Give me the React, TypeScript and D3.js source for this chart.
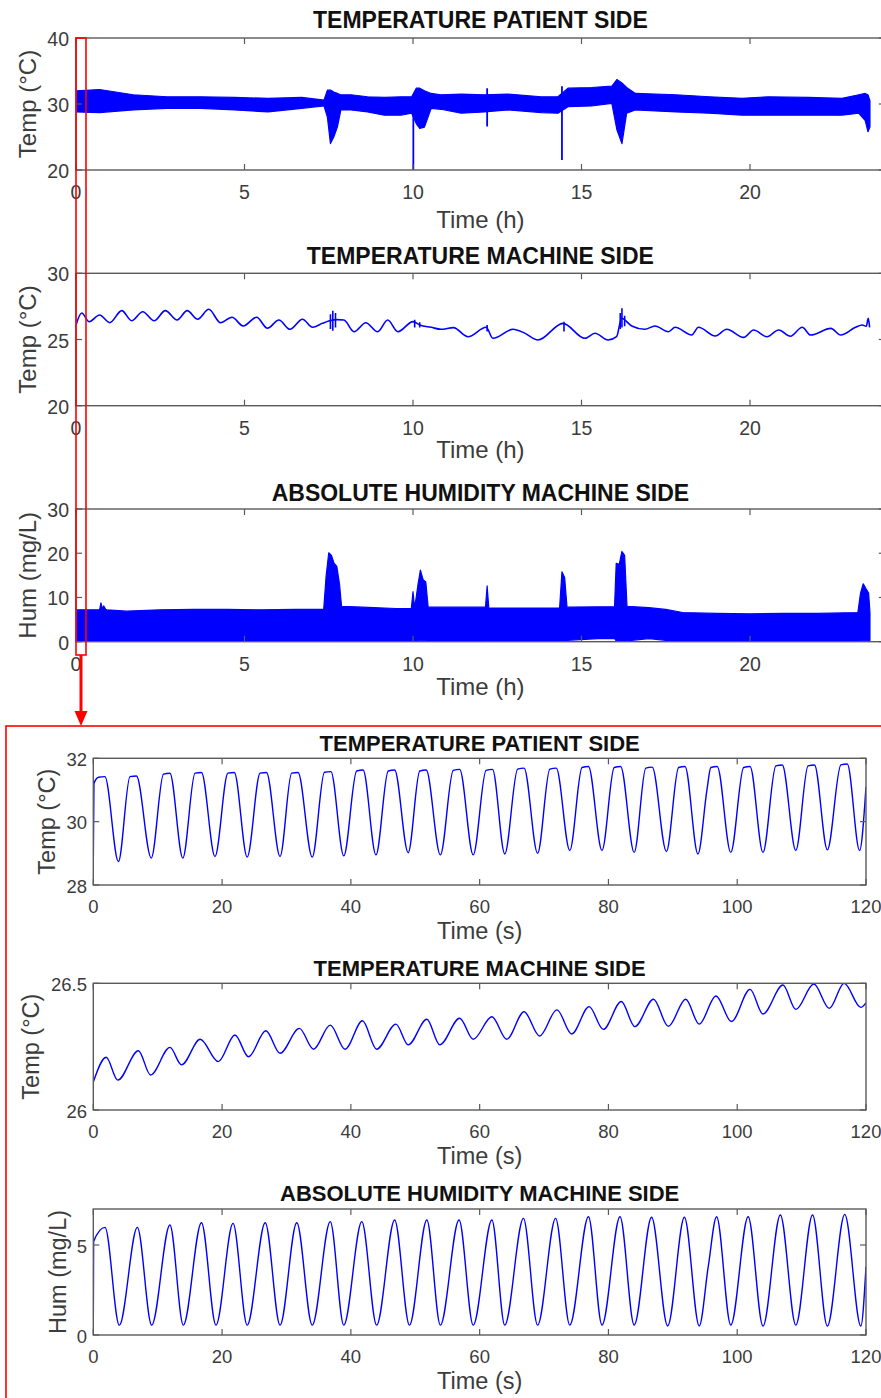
import React from "react";
import * as d3 from "d3";

// ---------------- DATA: 24 h overview ----------------
// Temperature patient side: noisy band (upper / lower envelope)
const patient24T = [0, 0.7, 1.7, 2.7, 3.7, 4.7, 5.7, 6.7, 7.36, 7.46, 7.55, 7.65, 7.76, 7.86, 8.16, 8.65, 9.15, 9.64, 9.96, 10.1, 10.2, 10.34, 10.54, 10.83, 11.43, 12.12, 12.82, 13.81, 14.3, 14.6, 15.3, 15.9, 16.05, 16.2, 16.34, 16.6, 17.8, 18.8, 19.76, 20.55, 21.74, 22.73, 23.23, 23.42, 23.5, 23.56];
const patient24Upper = [32.0, 32.2, 31.4, 31.1, 31.1, 31.0, 30.86, 31.0, 30.6, 32.1, 32.1, 31.8, 31.6, 31.4, 31.4, 31.1, 31.0, 31.1, 31.1, 32.4, 32.4, 32.0, 31.6, 31.4, 31.5, 31.4, 31.5, 31.1, 31.1, 32.4, 32.5, 32.7, 33.7, 33.2, 32.5, 31.6, 31.4, 31.1, 30.86, 31.1, 31.0, 30.86, 31.4, 31.6, 31.4, 30.5];
const patient24Lower = [28.8, 28.7, 29.1, 29.35, 29.35, 29.1, 28.8, 29.35, 29.7, 28.0, 24.0, 25.0, 26.6, 29.1, 29.1, 28.8, 28.3, 28.3, 28.6, 27.0, 26.3, 26.5, 29.35, 29.2, 28.6, 28.8, 29.1, 28.7, 28.6, 29.6, 29.7, 30.1, 26.1, 24.0, 28.6, 29.1, 28.8, 28.6, 28.3, 28.3, 28.3, 28.3, 28.6, 27.5, 25.8, 26.5];
const patient24SpikeT = [10.01, 12.2, 14.42];
const patient24SpikeLo = [20.0, 26.6, 21.5];
const patient24SpikeHi = [31.1, 32.4, 32.7];

// Temperature machine side: slow oscillation
const machine24T = [0, 0.17, 0.39, 0.7, 1.0, 1.36, 1.65, 1.98, 2.32, 2.65, 3.0, 3.3, 3.61, 3.94, 4.29, 4.63, 4.96, 5.36, 5.68, 6.02, 6.35, 6.72, 7.02, 7.31, 7.5, 7.75, 7.95, 8.25, 8.6, 8.95, 9.25, 9.55, 10.0, 10.2, 10.54, 10.83, 11.2, 11.63, 12.17, 12.37, 12.97, 13.3, 13.71, 14.45, 15.1, 15.4, 15.79, 16.04, 16.19, 16.49, 16.88, 17.18, 17.58, 17.78, 18.27, 18.47, 18.97, 19.31, 19.81, 20.11, 20.5, 20.85, 21.2, 21.55, 21.8, 22.4, 22.69, 23.13, 23.33, 23.45, 23.51, 23.55];
const machine24V = [26.1, 27.0, 26.35, 26.85, 26.27, 27.18, 26.42, 27.1, 26.42, 27.18, 26.47, 27.18, 26.53, 27.28, 26.27, 26.68, 26.02, 26.68, 25.85, 26.47, 25.77, 26.53, 25.92, 26.22, 26.4, 26.5, 26.47, 25.59, 26.27, 25.59, 26.47, 25.59, 26.35, 26.1, 25.92, 25.77, 25.9, 25.21, 25.92, 25.09, 25.77, 25.5, 24.96, 26.22, 25.09, 25.47, 24.96, 25.21, 26.6, 26.02, 25.77, 26.02, 25.59, 25.92, 25.34, 25.92, 25.26, 25.77, 25.16, 25.72, 25.21, 25.72, 25.25, 25.92, 25.34, 25.84, 25.34, 25.92, 26.1, 26.0, 26.6, 25.92];
const machine24BurstT = [7.55, 7.62, 7.7, 10.05, 10.2, 12.2, 14.48, 16.15, 16.2, 16.28];
const machine24BurstLo = [25.8, 25.66, 25.9, 25.9, 25.9, 25.6, 25.6, 25.8, 25.9, 26.0];
const machine24BurstHi = [26.9, 27.18, 27.0, 26.5, 26.3, 26.1, 26.35, 27.0, 27.36, 26.8];

// Absolute humidity machine side: band
const hum24T = [0, 0.7, 0.74, 0.78, 0.82, 0.88, 0.92, 1.5, 2.5, 3.5, 4.5, 5.5, 6.5, 7.35, 7.42, 7.5, 7.58, 7.66, 7.74, 7.82, 7.88, 8.5, 9.5, 9.95, 10.0, 10.05, 10.15, 10.22, 10.3, 10.38, 10.45, 11.5, 12.15, 12.2, 12.25, 13.5, 14.35, 14.42, 14.5, 14.57, 15.5, 15.98, 16.03, 16.12, 16.2, 16.28, 16.35, 17.0, 17.5, 18.0, 19.0, 20.0, 21.0, 22.0, 23.2, 23.28, 23.36, 23.44, 23.52, 23.56];
const hum24Upper = [7.2, 7.2, 8.8, 7.4, 8.1, 7.3, 7.2, 6.9, 7.2, 7.3, 7.3, 7.2, 7.3, 7.3, 14.7, 20.1, 19.5, 17.7, 17.0, 13.0, 8.0, 7.8, 7.5, 7.5, 11.3, 7.6, 13.0, 16.2, 14.0, 13.5, 7.8, 7.8, 7.8, 12.6, 7.6, 7.6, 7.6, 15.8, 14.5, 7.8, 7.9, 7.9, 17.7, 17.5, 20.4, 19.5, 8.0, 7.7, 7.3, 6.6, 6.4, 6.3, 6.4, 6.4, 6.6, 11.0, 13.1, 12.0, 11.0, 6.5];
const hum24Lower = [0.3, 0.3, 0.3, 0.3, 0.3, 0.3, 0.3, 0.3, 0.3, 0.3, 0.3, 0.3, 0.3, 0.3, 0.1, 0.1, 0.1, 0.1, 0.1, 0.1, 0.3, 0.3, 0.3, 0.3, 0.2, 0.3, 0.2, 0.2, 0.2, 0.2, 0.3, 0.3, 0.3, 0.2, 0.3, 0.3, 0.3, 0.1, 0.1, 0.3, 0.7, 0.7, 0.2, 0.1, 0.1, 0.1, 0.2, 0.7, 0.3, 0.3, 0.3, 0.3, 0.3, 0.3, 0.3, 0.2, 0.2, 0.2, 0.2, 0.3];

// ---------------- DATA: first 120 s ----------------
// patient side: trough, plateau start, plateau end for each breath
const patient120T = [0, 0.1, 0.8, 1.8, 3.9, 5.7, 6.7, 9.0, 10.9, 11.9, 13.9, 15.8, 16.8, 18.9, 20.9, 21.9, 23.9, 25.9, 26.9, 29.0, 30.8, 31.8, 34.0, 35.9, 36.9, 38.9, 40.9, 41.9, 43.9, 45.8, 46.8, 48.9, 50.7, 51.7, 53.9, 55.9, 56.9, 59.0, 61.0, 62.0, 63.9, 65.9, 66.9, 69.0, 70.9, 71.9, 74.0, 75.9, 76.9, 79.0, 80.9, 81.9, 84.0, 85.8, 86.8, 89.0, 90.9, 91.9, 93.9, 95.3, 95.9, 96.9, 99.0, 101.0, 102.0, 104.0, 106.0, 107.0, 109.1, 111.0, 112.0, 114.0, 116.1, 117.1, 119.0, 120];
const patient120V = [28.7, 31.2, 31.4, 31.42, 28.74, 31.42, 31.44, 28.85, 31.5, 31.53, 28.85, 31.53, 31.55, 28.9, 31.53, 31.55, 28.88, 31.53, 31.55, 28.9, 31.53, 31.55, 28.88, 31.56, 31.58, 28.92, 31.6, 31.63, 28.95, 31.6, 31.63, 29.02, 31.6, 31.63, 28.95, 31.62, 31.65, 28.95, 31.62, 31.65, 28.98, 31.66, 31.69, 29.0, 31.66, 31.69, 29.09, 31.71, 31.74, 29.09, 31.71, 31.74, 29.03, 31.69, 31.72, 29.06, 31.71, 31.74, 28.98, 31.0, 31.71, 31.74, 29.03, 31.71, 31.74, 29.03, 31.76, 31.79, 29.09, 31.76, 31.79, 29.11, 31.79, 31.82, 29.09, 31.1];

const machine120T = [0, 2.0, 3.8, 7.0, 8.9, 11.9, 13.7, 16.6, 19.4, 22.0, 24.1, 26.8, 29.0, 32.0, 34.2, 36.8, 39.1, 41.8, 44.0, 47.0, 48.9, 51.8, 53.8, 56.9, 59.0, 61.9, 64.2, 66.9, 69.3, 72.0, 74.3, 77.0, 79.2, 82.0, 84.1, 87.0, 89.3, 92.0, 94.1, 96.7, 99.1, 102.0, 104.0, 107.1, 109.1, 111.9, 114.3, 116.6, 119.2, 120];
const machine120V = [26.11, 26.208, 26.118, 26.234, 26.138, 26.247, 26.178, 26.279, 26.191, 26.296, 26.21, 26.313, 26.224, 26.322, 26.24, 26.335, 26.24, 26.352, 26.24, 26.339, 26.257, 26.358, 26.257, 26.362, 26.279, 26.368, 26.279, 26.388, 26.292, 26.395, 26.3, 26.408, 26.318, 26.428, 26.329, 26.437, 26.33, 26.437, 26.339, 26.45, 26.349, 26.476, 26.379, 26.493, 26.397, 26.497, 26.401, 26.5, 26.405, 26.423];

const hum120T = [0, 0.05, 1.82, 4.04, 6.84, 9.07, 11.9, 13.98, 16.8, 19.05, 21.7, 23.9, 26.7, 29.0, 31.6, 34.0, 36.8, 38.9, 41.7, 44.0, 46.8, 49.1, 51.8, 53.9, 56.8, 59.0, 61.9, 63.9, 66.8, 69.0, 71.8, 74.0, 76.9, 79.0, 81.8, 84.0, 86.7, 89.2, 91.8, 94.1, 95.5, 96.8, 99.0, 101.7, 104.0, 106.7, 109.1, 111.7, 114.0, 116.7, 119.2, 120];
const hum120V = [0.55, 5.2, 5.98, 0.55, 5.98, 0.55, 6.11, 0.55, 6.24, 0.55, 6.2, 0.55, 6.24, 0.55, 6.24, 0.55, 6.3, 0.55, 6.3, 0.55, 6.39, 0.55, 6.39, 0.55, 6.39, 0.55, 6.39, 0.55, 6.48, 0.55, 6.48, 0.55, 6.57, 0.55, 6.57, 0.55, 6.54, 0.5, 6.54, 0.5, 3.8, 6.57, 0.55, 6.57, 0.5, 6.67, 0.55, 6.67, 0.5, 6.7, 0.5, 3.8];

// ---------------- Tick labels ----------------
const hourTicks = [0, 5, 10, 15, 20];
const secTicks = [0, 20, 40, 60, 80, 100, 120];
const patient24Ticks = [20, 30, 40];
const machine24Ticks = [20, 25, 30];
const hum24Ticks = [0, 10, 20, 30];
const patient120Ticks = [28, 30, 32];
const machine120Ticks = [26, 26.5];
const hum120Ticks = [0, 5];

// ---------------- Styling / layout ----------------
const BLUE = "#0000ff";
const RED = "#ff0000";
const AXIS = "#5a5a5a";
const TXT = "#3c3c3c";
const FONT = "'Liberation Sans', Arial, Helvetica, sans-serif";

type PanelCfg = {
  id: string;
  left: number; right: number; top: number; bottom: number;
  xDomain: [number, number]; yDomain: [number, number];
  xTicks: number[]; yTicks: number[];
  title: string; titleY: number; titleSize: number;
  xLabel: string; xLabelY: number; xTickY: number;
  yLabel: string; yLabelX: number; yTickX: number;
  fs: number; labelFs: number;
};

const topBase = { left: 76, right: 884.8, xDomain: [0, 24] as [number, number], xTicks: hourTicks, titleSize: 23, fs: 19.5, labelFs: 24, xLabel: "Time (h)", yLabelX: 36.2, yTickX: 69 };
const botBase = { left: 93.3, right: 866, xDomain: [0, 120] as [number, number], xTicks: secTicks, titleSize: 22, fs: 18.5, labelFs: 23.5, xLabel: "Time (s)", yTickX: 87 };

const panels: PanelCfg[] = [
  { ...topBase, id: "p1", top: 38, bottom: 170, yDomain: [20, 40], yTicks: patient24Ticks, title: "TEMPERATURE PATIENT SIDE", titleY: 28.3, xTickY: 199, xLabelY: 228, yLabel: "Temp (°C)" },
  { ...topBase, id: "p2", top: 273.3, bottom: 405.7, yDomain: [20, 30], yTicks: machine24Ticks, title: "TEMPERATURE MACHINE SIDE", titleY: 264, xTickY: 435, xLabelY: 458, yLabel: "Temp (°C)" },
  { ...topBase, id: "p3", top: 509, bottom: 641.7, yDomain: [0, 30], yTicks: hum24Ticks, title: "ABSOLUTE HUMIDITY MACHINE SIDE", titleY: 500.7, xTickY: 670.7, xLabelY: 695, yLabel: "Hum (mg/L)" },
  { ...botBase, id: "q1", top: 758.3, bottom: 885, yDomain: [28, 32], yTicks: patient120Ticks, title: "TEMPERATURE PATIENT SIDE", titleY: 750.7, xTickY: 912.7, xLabelY: 939, yLabel: "Temp (°C)", yLabelX: 55.2 },
  { ...botBase, id: "q2", top: 983.3, bottom: 1110, yDomain: [26, 26.5], yTicks: machine120Ticks, title: "TEMPERATURE MACHINE SIDE", titleY: 975.7, xTickY: 1138.3, xLabelY: 1164, yLabel: "Temp (°C)", yLabelX: 38.7 },
  { ...botBase, id: "q3", top: 1209, bottom: 1335, yDomain: [0, 7], yTicks: hum120Ticks, title: "ABSOLUTE HUMIDITY MACHINE SIDE", titleY: 1200.7, xTickY: 1362.7, xLabelY: 1389, yLabel: "Hum (mg/L)", yLabelX: 66.2 },
];

function scalesOf(p: PanelCfg) {
  const x = d3.scaleLinear().domain(p.xDomain).range([p.left, p.right]);
  const y = d3.scaleLinear().domain(p.yDomain).range([p.bottom, p.top]);
  return { x, y };
}

function Frame({ p }: { p: PanelCfg }) {
  const { x, y } = scalesOf(p);
  const tl = 6;
  const cx = (p.left + p.right) / 2;
  const cy = (p.top + p.bottom) / 2;
  return (
    <g>
      <rect x={p.left} y={p.top} width={p.right - p.left} height={p.bottom - p.top} fill="none" stroke={AXIS} strokeWidth={1.4} />
      {p.xTicks.map((t) => (
        <g key={"x" + t}>
          <line x1={x(t)} x2={x(t)} y1={p.bottom} y2={p.bottom - tl} stroke={AXIS} strokeWidth={1.2} />
          <line x1={x(t)} x2={x(t)} y1={p.top} y2={p.top + tl} stroke={AXIS} strokeWidth={1.2} />
          <text x={x(t)} y={p.xTickY} textAnchor="middle" fontSize={p.fs} fill={TXT} fontFamily={FONT}>{t}</text>
        </g>
      ))}
      {p.yTicks.map((t) => (
        <g key={"y" + t}>
          <line x1={p.left} x2={p.left + tl} y1={y(t)} y2={y(t)} stroke={AXIS} strokeWidth={1.2} />
          <line x1={p.right} x2={p.right - tl} y1={y(t)} y2={y(t)} stroke={AXIS} strokeWidth={1.2} />
          <text x={p.yTickX} y={y(t) + p.fs * 0.36 + 1} textAnchor="end" fontSize={p.fs} fill={TXT} fontFamily={FONT}>{t}</text>
        </g>
      ))}
      <text x={cx} y={p.titleY} textAnchor="middle" fontSize={p.titleSize} fontWeight="bold" fill="#111" fontFamily={FONT}>{p.title}</text>
      <text x={cx} y={p.xLabelY} textAnchor="middle" fontSize={p.labelFs} fill={TXT} fontFamily={FONT}>{p.xLabel}</text>
      <text transform={`translate(${p.yLabelX},${cy}) rotate(-90)`} textAnchor="middle" fontSize={p.labelFs} fill={TXT} fontFamily={FONT}>{p.yLabel}</text>
    </g>
  );
}

function Band({ p, T, up, lo }: { p: PanelCfg; T: number[]; up: number[]; lo: number[] }) {
  const { x, y } = scalesOf(p);
  const area = d3.area<number>().x((d) => x(d)).y0((_, i) => y(lo[i])).y1((_, i) => y(up[i]));
  return <path d={area(T) || ""} fill={BLUE} stroke={BLUE} strokeWidth={1.2} strokeLinejoin="round" clipPath={`url(#clip-${p.id})`} />;
}

function Line({ p, T, V, curve, width }: { p: PanelCfg; T: number[]; V: number[]; curve: d3.CurveFactory; width: number }) {
  const { x, y } = scalesOf(p);
  const gen = d3.line<number>().x((d) => x(d)).y((_, i) => y(V[i])).curve(curve);
  return <path d={gen(T) || ""} fill="none" stroke={BLUE} strokeWidth={width} strokeLinejoin="round" clipPath={`url(#clip-${p.id})`} />;
}

function Spikes({ p, T, lo, hi, width }: { p: PanelCfg; T: number[]; lo: number[]; hi: number[]; width: number }) {
  const { x, y } = scalesOf(p);
  return (
    <g clipPath={`url(#clip-${p.id})`}>
      {T.map((t, i) => (
        <line key={i} x1={x(t)} x2={x(t)} y1={y(lo[i])} y2={y(hi[i])} stroke={BLUE} strokeWidth={width} />
      ))}
    </g>
  );
}

export default function App() {
  const [p1, p2, p3, q1, q2, q3] = panels;
  return (
    <svg width={881} height={1398} viewBox="0 0 881 1398" style={{ display: "block", position: "absolute", left: 0, top: 0, background: "#fff" }}>
      <rect x={0} y={0} width={881} height={1398} fill="#fff" />
      <defs>
        {panels.map((p) => (
          <clipPath key={p.id} id={`clip-${p.id}`}>
            <rect x={p.left} y={p.top} width={p.right - p.left} height={p.bottom - p.top} />
          </clipPath>
        ))}
      </defs>

      <Band p={p1} T={patient24T} up={patient24Upper} lo={patient24Lower} />
      <Spikes p={p1} T={patient24SpikeT} lo={patient24SpikeLo} hi={patient24SpikeHi} width={1.8} />

      <Line p={p2} T={machine24T} V={machine24V} curve={d3.curveMonotoneX} width={1.6} />
      <Spikes p={p2} T={machine24BurstT} lo={machine24BurstLo} hi={machine24BurstHi} width={1.6} />

      <Band p={p3} T={hum24T} up={hum24Upper} lo={hum24Lower} />

      <Line p={q1} T={patient120T} V={patient120V} curve={d3.curveMonotoneX} width={1.4} />
      <Line p={q2} T={machine120T} V={machine120V} curve={d3.curveMonotoneX} width={1.4} />
      <Line p={q3} T={hum120T} V={hum120V} curve={d3.curveMonotoneX} width={1.4} />

      {panels.map((p) => (
        <Frame key={p.id} p={p} />
      ))}

      {/* zoom annotation */}
      <rect x={76} y={38} width={10} height={617} fill="none" stroke={RED} strokeWidth={1.6} />
      <line x1={81} x2={81} y1={655} y2={713} stroke={RED} strokeWidth={3} />
      <path d="M74.5,711 L87.5,711 L81,726 Z" fill={RED} />
      <rect x={6} y={726} width={900} height={700} fill="none" stroke={RED} strokeWidth={1.6} />
    </svg>
  );
}
